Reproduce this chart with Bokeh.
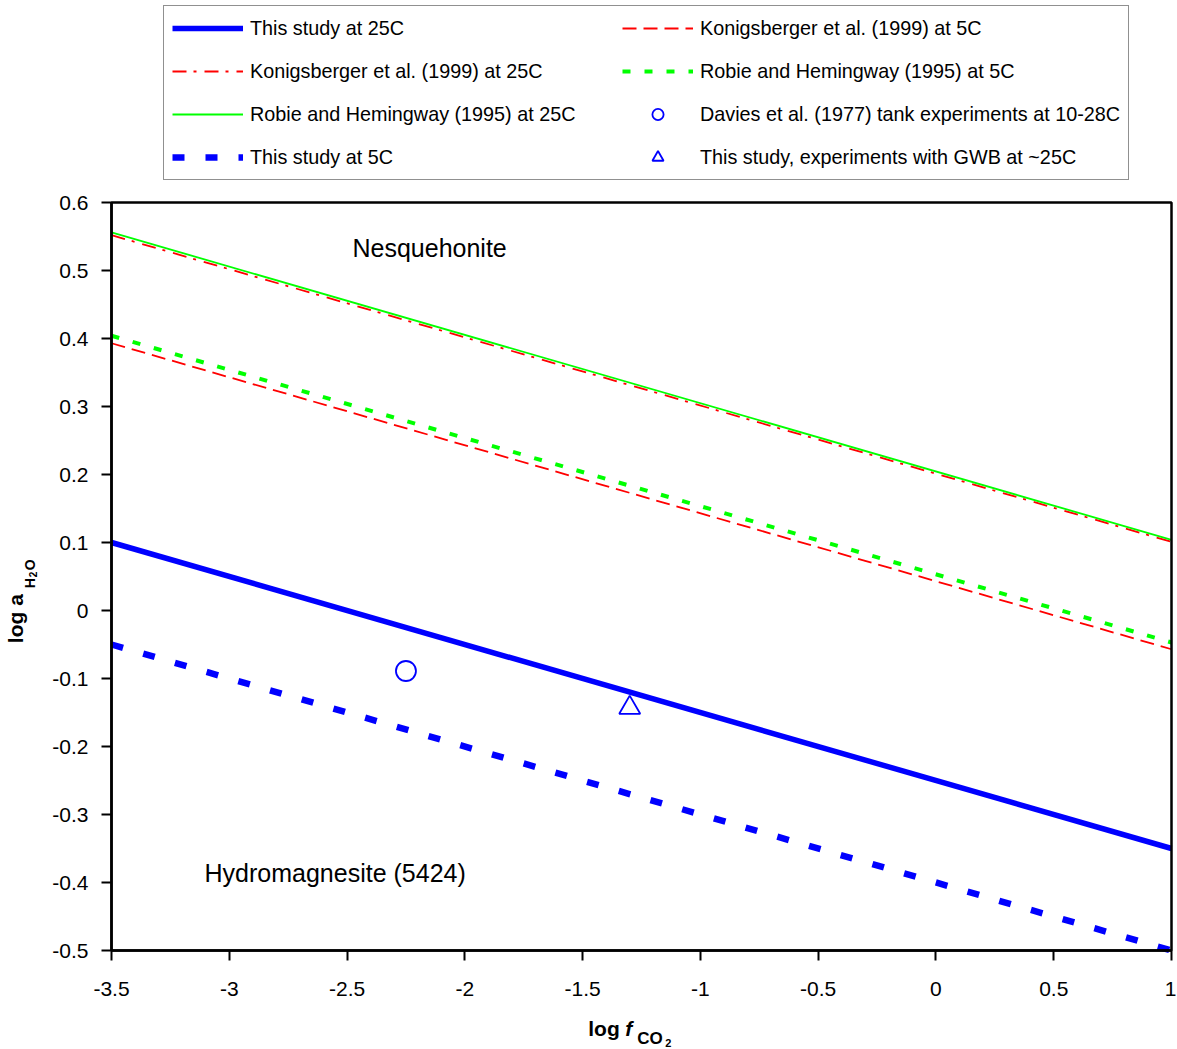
from math import pi
from bokeh.plotting import figure
from bokeh.models import (Range1d, FixedTicker, CustomJSTickFormatter, Legend,
                          LegendItem, Label, BoxAnnotation)
from bokeh.embed import file_html
from bokeh.resources import INLINE

# ---------------- data ----------------
x_ends = [-3.5, 1.0]
this_study_25C = [0.100, -0.350]
this_study_5C = [-0.050, -0.500]
konig_25C = [0.552, 0.101]
robie_25C = [0.556, 0.104]
konig_5C = [0.393, -0.057]
robie_5C = [0.404, -0.047]

davies_x = [-2.25]
davies_y = [-0.089]
gwb_x = [-1.30]
gwb_y = [-0.143]

x_limits = [-3.5, 1.0]
y_limits = [-0.5, 0.6]
x_ticks = [-3.5, -3.0, -2.5, -2.0, -1.5, -1.0, -0.5, 0.0, 0.5, 1.0]
x_tick_labels = ["-3.5", "-3", "-2.5", "-2", "-1.5", "-1", "-0.5", "0", "0.5", "1"]
y_ticks = [-0.5, -0.4, -0.3, -0.2, -0.1, 0.0, 0.1, 0.2, 0.3, 0.4, 0.5, 0.6]
y_tick_labels = ["-0.5", "-0.4", "-0.3", "-0.2", "-0.1", "0",
                 "0.1", "0.2", "0.3", "0.4", "0.5", "0.6"]

legend_labels = [
    "This study at 25C",
    "Konigsberger et al. (1999) at 25C",
    "Robie and Hemingway (1995) at 25C",
    "This study at 5C",
    "Konigsberger et al. (1999) at 5C",
    "Robie and Hemingway (1995) at 5C",
    "Davies et al. (1977) tank experiments at 10-28C",
    "This study, experiments with GWB at ~25C",
]

FONT = "Liberation Sans"
BLUE = "#0000ff"
RED = "#ff0000"
GREEN = "#00ff00"

# ---------------- layout (pixels) ----------------
W, H = 1176, 1048
BOX_L, BOX_R, BOX_T, BOX_B = 111, 1171, 202, 950   # plot box inside the canvas
kx = (BOX_R - BOX_L) / (x_limits[1] - x_limits[0])
ky = (BOX_B - BOX_T) / (y_limits[1] - y_limits[0])
x_range = Range1d(x_limits[0] - BOX_L / kx, x_limits[1] + (W - BOX_R) / kx)
y_range = Range1d(y_limits[0] - (H - BOX_B) / ky, y_limits[1] + BOX_T / ky)

p = figure(width=W, height=H, x_range=x_range, y_range=y_range,
           output_backend="svg", toolbar_location=None,
           min_border=0)
p.grid.visible = False
p.outline_line_color = None
p.background_fill_color = "white"
p.border_fill_color = "white"

for ax in (p.xaxis[0], p.yaxis[0]):
    ax.axis_line_width = 2.5
    ax.axis_line_color = "black"
    ax.major_tick_line_width = 2
    ax.major_tick_line_color = "black"
    ax.major_tick_out = 10
    ax.major_tick_in = 0
    ax.minor_tick_line_color = None
    ax.major_label_text_font = FONT
    ax.major_label_text_font_size = "21px"
    ax.major_label_text_color = "black"

p.xaxis[0].fixed_location = y_limits[0]
p.yaxis[0].fixed_location = x_limits[0]
p.xaxis[0].bounds = tuple(x_limits)
p.yaxis[0].bounds = tuple(y_limits)
p.xaxis[0].ticker = FixedTicker(ticks=x_ticks)
p.yaxis[0].ticker = FixedTicker(ticks=y_ticks)
fmt_code = "const i = tv.indexOf(tick); return i >= 0 ? tl[i] : String(tick);"
p.xaxis[0].formatter = CustomJSTickFormatter(args=dict(tv=x_ticks, tl=x_tick_labels), code=fmt_code)
p.yaxis[0].formatter = CustomJSTickFormatter(args=dict(tv=y_ticks, tl=y_tick_labels), code=fmt_code)
p.xaxis[0].major_label_standoff = 21
p.yaxis[0].major_label_standoff = 13

# ---------------- lines and points ----------------
r_s25 = p.line(x_ends, this_study_25C, line_color=BLUE, line_width=5.5)
r_k25 = p.line(x_ends, konig_25C, line_color=RED, line_width=1.8, line_dash="14 7 3 8")
r_r25 = p.line(x_ends, robie_25C, line_color=GREEN, line_width=1.8)
r_s5 = p.line(x_ends, this_study_5C, line_color=BLUE, line_width=6.5, line_dash="12 21")
r_k5 = p.line(x_ends, konig_5C, line_color=RED, line_width=1.8, line_dash="14 7")
r_r5 = p.line(x_ends, robie_5C, line_color=GREEN, line_width=4, line_dash="8 14")
r_dav = p.scatter(davies_x, davies_y, marker="circle", size=20, fill_color=None,
                  line_color=BLUE, line_width=1.8)
r_gwb = p.scatter(gwb_x, gwb_y, marker="triangle", size=21, fill_color=None,
                  line_color=BLUE, line_width=1.8)

# plot box
p.add_layout(BoxAnnotation(left=x_limits[0], right=x_limits[1],
                           bottom=y_limits[0], top=y_limits[1],
                           fill_color=None, fill_alpha=0, line_color="black",
                           line_alpha=1.0, line_width=2.5, line_dash="solid"))

# ---------------- legend ----------------
LEG_LEFT, LEG_TOP, LEG_H = 163, 7, 173
renderers = [r_s25, r_k25, r_r25, r_s5, r_k5, r_r5, r_dav, r_gwb]
items = [LegendItem(label=lab, renderers=[r]) for lab, r in zip(legend_labels, renderers)]
legend = Legend(items=items, location=(LEG_LEFT, H - LEG_TOP - LEG_H),
                orientation="vertical", ncols=2,
                label_text_font=FONT, label_text_font_size="19.8px",
                label_text_color="black",
                glyph_width=71, glyph_height=28, label_height=20, label_width=357,
                label_standoff=7, spacing=15, padding=8, margin=0,
                border_line_color="#222222", border_line_width=1.5,
                background_fill_color="white", background_fill_alpha=1.0)
p.add_layout(legend, "center")

# ---------------- region labels ----------------
p.add_layout(Label(x=-2.477, y=0.518, y_offset=10, text="Nesquehonite", text_font=FONT,
                   text_font_size="25px", text_color="black", text_baseline="alphabetic"))
p.add_layout(Label(x=-3.105, y=-0.400, y_offset=10, text="Hydromagnesite (5424)", text_font=FONT,
                   text_font_size="25px", text_color="black", text_baseline="alphabetic"))

# ---------------- axis titles ----------------
def title_piece(text, size, x, y, xo, yo, angle=0.0, style="bold"):
    p.add_layout(Label(x=x, y=y, x_offset=xo, y_offset=yo, angle=angle,
                       text=text, text_font=FONT, text_font_size=size,
                       text_font_style=style, text_color="black",
                       text_align="left", text_baseline="alphabetic"))

# y title: log a_H2O (rotated)
title_piece("log a", "21px", x_limits[0], -0.048, -96, 0, pi / 2)
title_piece("H", "14px", x_limits[0], -0.048, -82, 55, pi / 2)
title_piece("2", "10px", x_limits[0], -0.048, -79, 66, pi / 2)
title_piece("O", "14px", x_limits[0], -0.048, -82, 73, pi / 2)
# x title: log f_CO2
title_piece("log", "21px", -1.476, y_limits[0], 0, -78)
title_piece("f", "21px", -1.476, y_limits[0], 37, -78, 0.0, "bold italic")
title_piece("CO", "17px", -1.476, y_limits[0], 49, -88)
title_piece("2", "11px", -1.476, y_limits[0], 77, -92)

open("out.html", "w").write(file_html(p, INLINE))
